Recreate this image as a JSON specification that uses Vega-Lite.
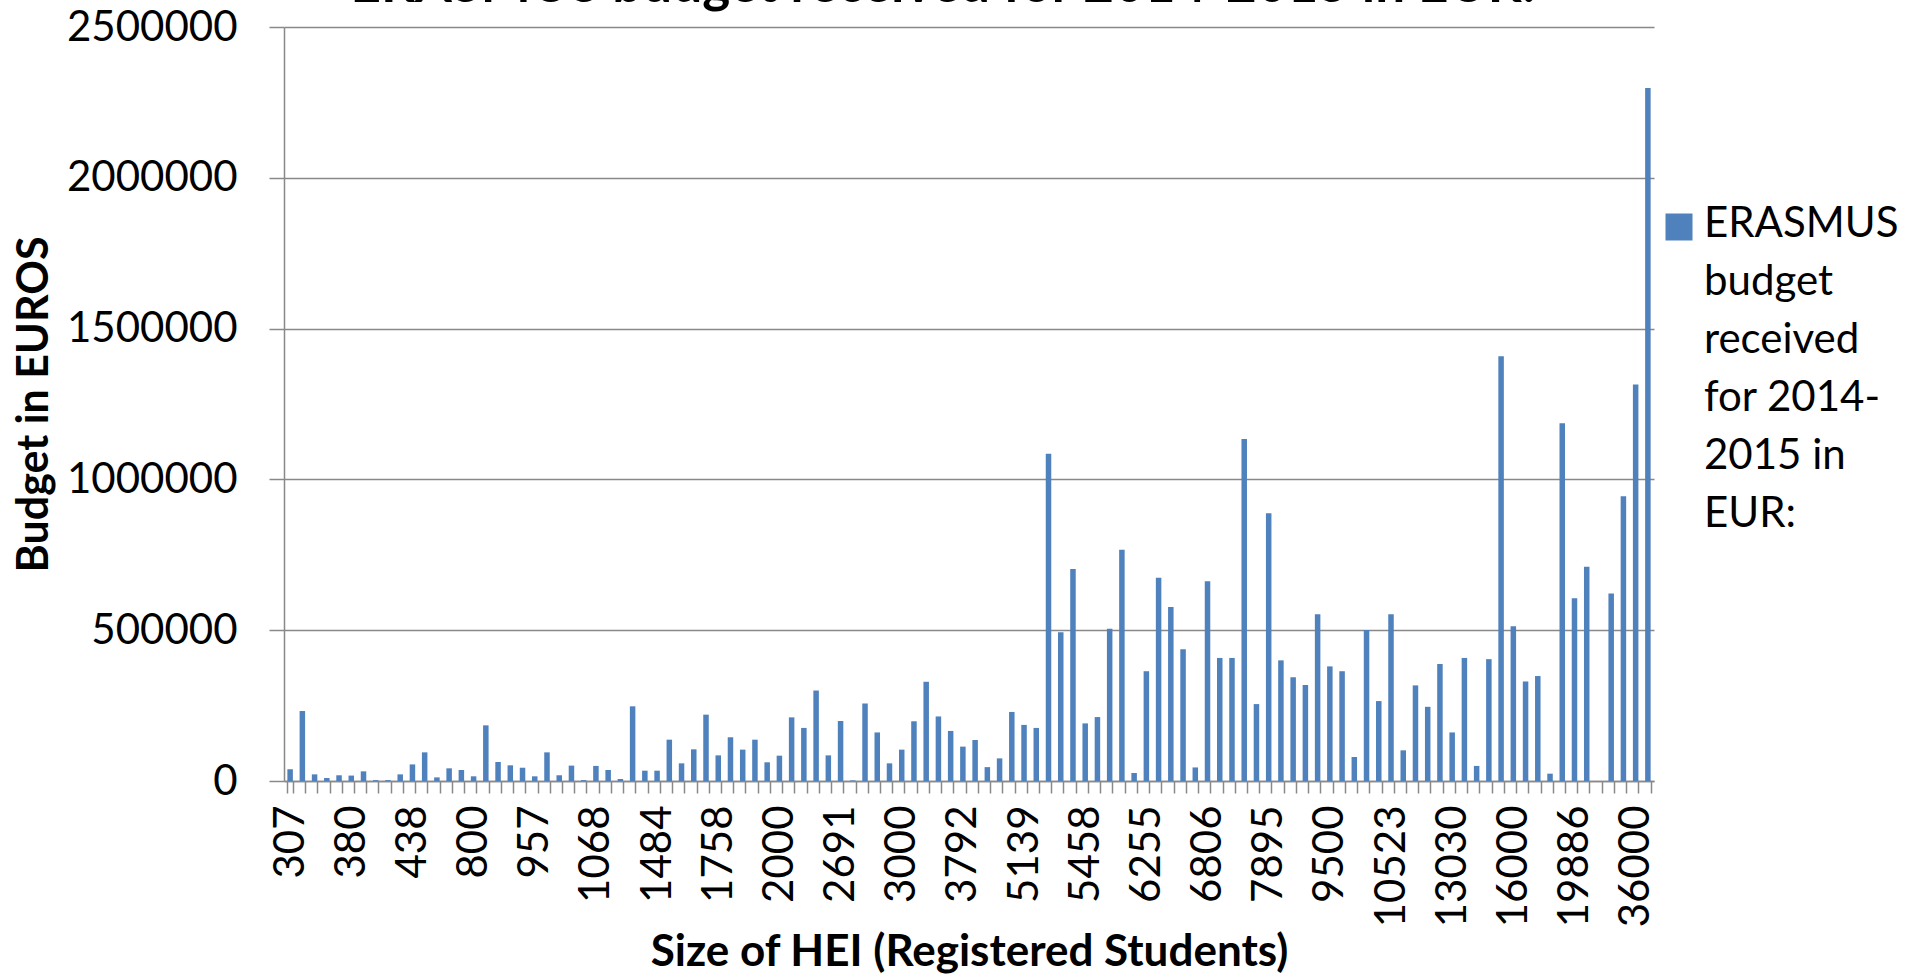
{
  "$schema": "https://vega.github.io/schema/vega-lite/v6.json",
  "width": 1370,
  "height": 754,
  "autosize": "none",
  "padding": {"left": 284, "top": 27, "right": 253, "bottom": 193},
  "background": "white",
  "title": {"text": "ERASMUS budget received for 2014-2015 in EUR:", "font": "Lato", "fontSize": 53, "fontWeight": "bold", "color": "#000000", "anchor": "middle", "offset": -49, "baseline": "alphabetic", "dx": -26},
  "data": {"values": [
    {"size": "307", "budget": 39000}, {"size": "320", "budget": 232000}, {"size": "335", "budget": 22000}, {"size": "350", "budget": 10000}, {"size": "365", "budget": 19000},
    {"size": "380", "budget": 18000}, {"size": "390", "budget": 32000}, {"size": "400", "budget": 3000}, {"size": "415", "budget": 3000}, {"size": "425", "budget": 22000},
    {"size": "438", "budget": 55000}, {"size": "500", "budget": 95000}, {"size": "580", "budget": 12000}, {"size": "650", "budget": 42000}, {"size": "730", "budget": 36500},
    {"size": "800", "budget": 15500}, {"size": "830", "budget": 184500}, {"size": "860", "budget": 63000}, {"size": "890", "budget": 52000}, {"size": "920", "budget": 44000},
    {"size": "957", "budget": 15500}, {"size": "980", "budget": 95000}, {"size": "1000", "budget": 19000}, {"size": "1020", "budget": 51000}, {"size": "1045", "budget": 3000},
    {"size": "1068", "budget": 50000}, {"size": "1150", "budget": 36500}, {"size": "1230", "budget": 6600}, {"size": "1320", "budget": 247600}, {"size": "1400", "budget": 34200},
    {"size": "1484", "budget": 34200}, {"size": "1540", "budget": 137000}, {"size": "1600", "budget": 58500}, {"size": "1650", "budget": 105000}, {"size": "1700", "budget": 220000},
    {"size": "1758", "budget": 85000}, {"size": "1800", "budget": 145000}, {"size": "1850", "budget": 104000}, {"size": "1900", "budget": 137000}, {"size": "1950", "budget": 62000},
    {"size": "2000", "budget": 84000}, {"size": "2150", "budget": 211000}, {"size": "2300", "budget": 176000}, {"size": "2420", "budget": 300000}, {"size": "2550", "budget": 85000},
    {"size": "2691", "budget": 199000}, {"size": "2750", "budget": 2000}, {"size": "2800", "budget": 257000}, {"size": "2870", "budget": 161000}, {"size": "2940", "budget": 58500},
    {"size": "3000", "budget": 104000}, {"size": "3150", "budget": 198000}, {"size": "3300", "budget": 329000}, {"size": "3450", "budget": 214000}, {"size": "3620", "budget": 166000},
    {"size": "3792", "budget": 114000}, {"size": "4050", "budget": 136000}, {"size": "4300", "budget": 46000}, {"size": "4600", "budget": 75000}, {"size": "4850", "budget": 229000},
    {"size": "5139", "budget": 186000}, {"size": "5200", "budget": 176000}, {"size": "5270", "budget": 1085000}, {"size": "5330", "budget": 493000}, {"size": "5400", "budget": 703000},
    {"size": "5458", "budget": 191000}, {"size": "5600", "budget": 212000}, {"size": "5750", "budget": 505000}, {"size": "5900", "budget": 767000}, {"size": "6080", "budget": 26500},
    {"size": "6255", "budget": 364000}, {"size": "6360", "budget": 674000}, {"size": "6470", "budget": 577000}, {"size": "6580", "budget": 437000}, {"size": "6690", "budget": 45000},
    {"size": "6806", "budget": 662000}, {"size": "7000", "budget": 408000}, {"size": "7200", "budget": 408000}, {"size": "7400", "budget": 1134000}, {"size": "7650", "budget": 255000},
    {"size": "7895", "budget": 888000}, {"size": "8200", "budget": 400000}, {"size": "8500", "budget": 344000}, {"size": "8800", "budget": 318000}, {"size": "9150", "budget": 553000},
    {"size": "9500", "budget": 380000}, {"size": "9700", "budget": 364000}, {"size": "9900", "budget": 79500}, {"size": "10100", "budget": 501000}, {"size": "10300", "budget": 265000},
    {"size": "10523", "budget": 553000}, {"size": "11000", "budget": 101700}, {"size": "11500", "budget": 317000}, {"size": "12000", "budget": 246000}, {"size": "12500", "budget": 388000},
    {"size": "13030", "budget": 161000}, {"size": "13600", "budget": 408000}, {"size": "14200", "budget": 50000}, {"size": "14800", "budget": 404000}, {"size": "15400", "budget": 1408000},
    {"size": "16000", "budget": 513000}, {"size": "16800", "budget": 330000}, {"size": "17600", "budget": 348000}, {"size": "18400", "budget": 24300}, {"size": "19100", "budget": 1186000},
    {"size": "19886", "budget": 606000}, {"size": "22000", "budget": 710000}, {"size": "25000", "budget": 0}, {"size": "28000", "budget": 622000}, {"size": "32000", "budget": 944000},
    {"size": "36000", "budget": 1315000}, {"size": "40000", "budget": 2298000}
  ]},
  "mark": {"type": "bar"},
  "encoding": {
    "x": {
      "field": "size", "type": "ordinal", "sort": null,
      "scale": {"paddingInner": 0.55, "paddingOuter": 0.275},
      "axis": {
        "title": "Size of HEI (Registered Students)",
        "titleFont": "Lato", "titleFontSize": 44, "titleFontWeight": "bold", "titleColor": "#000000",
        "titleBaseline": "alphabetic", "titleY": 184,
        "labelExpr": "indexof(['307','380','438','800','957','1068','1484','1758','2000','2691','3000','3792','5139','5458','6255','6806','7895','9500','10523','13030','16000','19886','36000'], datum.label) >= 0 ? datum.label : ''",
        "labelAngle": -90, "labelFont": "Lato", "labelFontSize": 42, "labelColor": "#000000",
        "labelPadding": 12, "tickSize": 12, "tickBand": "extent", "tickColor": "#898989", "tickWidth": 1.5,
        "domainColor": "#898989", "domainWidth": 1.5, "labelOverlap": false, "grid": false
      }
    },
    "y": {
      "field": "budget", "type": "quantitative",
      "scale": {"domain": [0, 2500000], "nice": false},
      "axis": {
        "title": "Budget in EUROS",
        "titleFont": "Lato", "titleFontSize": 43, "titleFontWeight": "bold", "titleColor": "#000000",
        "titleAngle": -90, "titleBaseline": "alphabetic", "titleAlign": "center", "titleX": -237, "titleY": 377,
        "values": [0, 500000, 1000000, 1500000, 2000000, 2500000], "format": "d",
        "labelFont": "Lato", "labelFontSize": 42, "labelColor": "#000000", "labelPadding": 32,
        "tickSize": 15, "tickColor": "#898989", "tickWidth": 1.5,
        "domainColor": "#898989", "domainWidth": 1.5,
        "grid": true, "gridColor": "#898989", "gridWidth": 1.5
      }
    },
    "color": {
      "datum": "ERASMUS budget received for 2014-2015 in EUR:",
      "scale": {"range": ["#4f81bd"]},
      "legend": {
        "title": null, "orient": "none", "legendX": 1374, "legendY": 179,
        "symbolType": "square", "symbolSize": 729, "symbolStrokeWidth": 0,
        "labelFont": "Lato", "labelFontSize": 42, "labelColor": "#000000", "labelOffset": 4, "labelLimit": 400,
        "labelExpr": "['ERASMUS','budget','received','for 2014-','2015 in','EUR:']",
        "labelBaseline": "top", "padding": 0,
        "encode": {"labels": {"update": {"lineHeight": {"value": 58}, "dy": {"value": -23}}}}
      }
    }
  },
  "config": {"view": {"stroke": null}}
}
